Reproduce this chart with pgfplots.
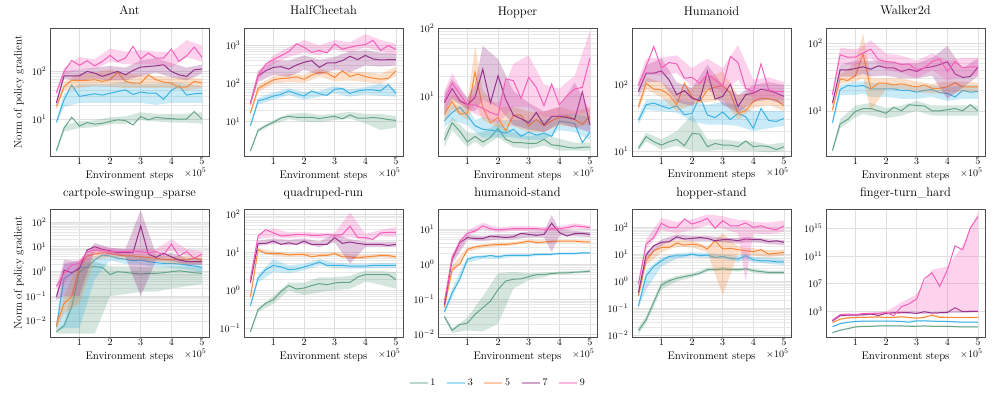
\documentclass[border=0pt]{standalone}
\usepackage{pgfplots}
\usepackage{pgfplotstable}
\pgfplotsset{compat=1.18}
\usepgfplotslibrary{groupplots}

\definecolor{c1}{RGB}{100,165,135}
\definecolor{c3}{RGB}{60,178,228}
\definecolor{c5}{RGB}{248,138,58}
\definecolor{c7}{RGB}{148,50,138}
\definecolor{c9}{RGB}{245,95,185}

% one band (upper forward, lower backward) and one mean line per run count
\newcommand{\runs}[2]{%
  \pgfplotsinvokeforeach{1,3,5,7,9}{%
    \addplot[draw=none, fill=c##1, fill opacity=0.28, forget plot] table[x=x, y=b##1] {#2};
    \addplot[c##1, line width=1pt] table[x=x, y=m##1] {#1};
  }%
}

% ---------------- Ant
\pgfplotstableread{
x m1 m3 m5 m7 m9
0.25 2.2 8.7 18.4 22 36
0.5 6.5 25.6 48 81 100
0.75 11 52 65 81 170
1 7.2 30 64 81 134
1.25 8.5 32 65 100 167
1.5 7.9 34 67 92 131
1.75 8.2 32 62 79 162
2 9 35 67 89 216
2.25 9.7 38 95 100 162
2.5 9.4 41 62 85 190
2.75 7.6 33 57 105 334
3 11.4 37 57 123 181
3.25 9.7 35 85 127 242
3.5 11 35 67 131 190
3.75 10.5 26 60 138 190
4 10.3 40 57 100 293
4.25 10 50 47 85 162
4.5 10.1 32 47 79 213
4.75 14.5 34 62 108 323
5 10 35 57 112 197
}\antM
\pgfplotstableread{
x b1 b3 b5 b7 b9
0.25 2.4 9.5 20 25 40
0.5 7.5 35 60 100 120
1 9 55 90 110 200
1.5 9.5 55 95 120 180
2 11 55 110 130 300
2.5 11.5 60 90 120 260
3 14 55 85 170 280
3.5 13 55 80 190 260
4 13 60 75 150 250
4.5 13 55 75 120 450
5 14 50 70 140 350
5 8 22 45 90 160
4.5 8.5 22 40 65 200
4 8.5 22 45 75 120
3.5 9 20 45 95 140
3 9.5 22 45 80 140
2.5 8 22 45 65 140
2 7.8 22 48 65 160
1.5 6.8 22 50 70 110
1 6.5 22 45 65 110
0.5 5.5 18 40 70 85
0.25 2.0 8 16 20 32
}\antB

% ---------------- HalfCheetah
\pgfplotstableread{
x m1 m3 m5 m7 m9
0.25 1.7 7.8 17 30 30
0.5 5.9 35 74 160 160
0.75 7.8 40 97 217 326
1 9.6 47 125 266 424
1.25 12.5 52 136 277 540
1.5 13.8 64 139 240 690
1.75 13 54 150 307 1110
2 13 47 130 362 900
2.25 13 64 166 400 660
2.5 12 54 196 266 740
2.75 13 49 188 347 640
3 13.8 71 144 347 1100
3.25 11.8 74 217 400 800
3.5 15 55 153 520 900
3.75 12.3 64 177 424 1000
4 12.3 68 153 550 1050
4.25 12.8 68 139 442 1360
4.5 12.3 64 130 417 740
4.75 11.3 94 136 424 1000
5 10.8 55 217 424 780
}\hcM
\pgfplotstableread{
x b1 b3 b5 b7 b9
0.25 1.8 8.5 19 35 34
0.5 6.5 42 90 220 200
1 11 58 160 400 550
1.5 16 75 180 400 900
2 17 60 170 550 1400
2.5 15 65 250 420 1000
3 16 85 190 500 1400
3.5 18 70 210 700 1200
4 16 80 200 750 2000
4.5 16 100 180 650 1400
5 14 70 280 600 1100
5 7 45 160 300 550
4.5 6 48 100 280 700
4 9 52 110 300 900
3.5 12 45 120 200 650
3 11 55 115 230 800
2.5 9.5 45 150 170 550
2 10 38 105 230 650
1.5 11.5 50 110 150 500
1 8.5 38 100 170 320
0.5 5.3 28 60 110 130
0.25 1.6 7.2 15 26 26
}\hcB

% ---------------- Hopper
\pgfplotstableread{
x m1 m3 m5 m7 m9
0.25 2.3 4.4 5.5 8.0 8.6
0.5 4.1 5.8 8.4 13 15.7
0.75 3.1 6.9 5.5 8.6 10.8
1 2.15 5.2 5.7 7.5 7.5
1.25 2.6 3.7 22.5 9.7 7.5
1.5 2.15 3.3 6.9 25 6.7
1.75 2.5 3.2 4.1 8 5.8
2 3.4 3.1 4.9 20 5.3
2.25 2.35 2.9 3.1 9 18
2.5 2.1 3.3 5.3 5.3 17
2.75 2.1 2.6 5.3 4.7 9.3
3 2.05 3.0 3.7 4.1 19
3.25 2.05 2.7 4.6 5.8 13.5
3.5 2.35 2.9 3.7 3.8 7.3
3.75 1.95 2.6 4.4 5.1 15.1
4 1.9 4.3 4.9 5.1 7.5
4.25 1.8 4.2 5.2 4.9 10.2
4.5 1.75 4.0 4.6 4.6 12.8
4.75 1.8 2.1 3.9 11.7 13.5
5 1.8 3.0 5.1 3.8 36
}\hopM
\pgfplotstableread{
x b1 b3 b5 b7 b9
0.25 3 5.5 7 11 12
0.5 5 7.5 11 18 22
1 3 7 8 9.5 9
1.25 2.9 4.5 55 15 11
1.5 3 5 12 55 9
2 4 4.5 7 35 8
2.5 3 4.5 7 12 30
3 2.6 4.5 6 8 40
3.5 2.8 4.5 6 6 15
4 2.4 5.5 7 7 13
4.5 2.1 5.5 6 16 20
5 2.1 5 7 6 90
5 1.6 2.3 3.9 3.0 6
4.5 1.6 3.0 3.5 3.5 5.5
4 1.6 3.2 3.8 4.0 5
3.5 1.9 2.3 3.0 3.0 5
3 1.7 2.3 3.0 3.3 7
2.5 1.8 2.5 3.7 3.8 7
2 2.5 2.5 3.5 7 4
1.5 1.8 2.5 4.5 9 5
1.25 2.2 3.0 8 6 5.5
1 1.8 3.8 4.5 6.5 6.5
0.5 3.2 4.5 6.5 9 10
0.25 1.8 3.5 4.2 5.5 6
}\hopB

% ---------------- Humanoid
\pgfplotstableread{
x m1 m3 m5 m7 m9
0.25 11 29 46 79 100
0.5 16.5 50 106 150 190
0.75 13.8 53 86 150 380
1 12.3 48 84 163 180
1.25 13.8 44 71 119 218
1.5 15 48 50 71 208
1.75 12 35.5 106 82 126
2 18.5 37 65 63 130
2.25 18 67 56 58 106
2.5 11.6 35 84 159 147
2.75 13 32 92 61 119
3 12.3 39 97 67 97
3.25 12.3 30 75 102 270
3.5 11.6 37 37 47 218
3.75 14.2 33 41 71 89
4 11.6 22 56 75 79
4.25 12 44 63 86 208
4.5 11.6 29 62 82 84
4.75 10.5 28 59 75 79
5 11.6 31 48 67 79
}\humM
\pgfplotstableread{
x b1 b3 b5 b7 b9
0.25 12 33 55 95 120
0.5 19 60 130 200 250
1 15 60 110 250 260
1.5 20 60 75 110 280
2 35 55 90 90 180
2.5 15 50 130 200 250
3 15 55 160 100 180
3.5 14 50 70 70 400
4 14 40 80 100 120
4.5 12.5 40 80 110 130
5 13.5 40 65 100 110
5 10 24 40 50 60
4.5 9.5 22 50 60 65
4 10 20 45 55 60
3.5 10 24 30 38 120
3 10.5 25 60 50 75
2.5 10 25 55 90 110
2 10 28 50 48 95
1.5 12 38 40 55 150
1 10.5 40 65 110 140
0.5 14 42 85 110 140
0.25 10 25 40 65 85
}\humB

% ---------------- Walker2d
\pgfplotstableread{
x m1 m3 m5 m7 m9
0.25 2.6 6.7 10.3 13 17.3
0.5 6.4 20.6 29.5 40 67
0.75 7.5 23.6 28 40 61.5
1 9.8 23 33 42 62
1.25 10.8 23.6 69 44.5 71
1.5 10.8 21 21 41 81
1.75 10 21 25.5 46 57
2 9.2 21 25.5 43 53
2.25 11.3 21 24 43 52
2.5 10 20 25 38 48
2.75 12.3 20 23.6 41 49
3 12 18.8 22.5 38 40
3.25 11.8 20 24 43 43
3.5 10 20.6 21.5 44.5 53
3.75 10 18.5 21.5 48 58
4 10.4 18 22.5 53 38
4.25 10.8 16 26 35 53
4.5 10 20 22.5 31 43
4.75 12.3 18.8 22.5 32 44.5
5 10 19.3 22.5 44 44.5
}\walM
\pgfplotstableread{
x b1 b3 b5 b7 b9
0.25 2.8 7.3 11 14 19
0.5 7.5 24 34 48 85
1 12 27 50 55 80
1.25 12.5 27 140 55 90
1.5 13 26 30 55 110
2 11 25 30 55 70
2.5 12 24 30 50 65
3 14 23 27 50 55
3.5 12 24 25 60 70
4 12 22 27 90 55
4.5 12 24 27 42 60
5 12 24 26 60 60
5 8.5 15 19 32 33
4.5 8.5 15 19 22 32
4 8.5 14 18 15 28
3.5 8.5 16 18 33 40
3 10 15 19 30 30
2.5 8.5 15 21 30 36
2 7.8 16 21 33 40
1.5 8.5 16 10 32 60
1.25 9 18 30 35 55
1 8 17 27 32 45
0.5 5.5 17 25 32 50
0.25 2.4 6.1 9.5 12 15.5
}\walB

% ---------------- cartpole-swingup_sparse
\pgfplotstableread{
x m1 m3 m5 m7 m9
0.25 0.0036 0.0057 0.0066 0.094 0.25
0.5 0.0063 0.52 0.05 1.13 0.83
0.75 0.037 0.83 0.1 0.88 1.8
1 0.97 1.45 1.45 1.3 2.1
1.25 1.45 1.45 4.2 7.3 6.3
1.5 1.55 2.9 5.0 10 7.3
1.75 1.45 4.6 5.7 7.8 7.3
2 0.75 4.2 5.4 6.9 6.3
2.25 0.97 3.4 4.6 5.7 6.3
2.5 0.91 3.1 4.2 5.7 6.3
2.75 0.83 2.7 4.2 5.7 6.9
3 0.78 2.9 3.9 69 6.3
3.25 0.83 2.5 3.7 5.0 5.7
3.5 0.83 2.25 3.4 3.7 6.3
3.75 0.88 2.1 3.1 5.4 4.6
4 0.97 2.1 2.9 3.9 12.8
4.25 1.06 2.0 3.1 2.9 4.2
4.5 0.97 1.8 2.9 2.5 6.3
4.75 0.88 1.65 3.4 2.5 3.4
5 0.83 1.45 2.9 2.5 5.0
}\cpM
\pgfplotstableread{
x b1 b3 b5 b7 b9
0.25 0.004 0.008 0.01 0.12 0.3
0.5 0.008 2 0.1 3 2
1 2.2 2.5 3 2.5 3
1.5 2.5 4 7 14 11
2 1.6 6 7.5 9 9
2.5 1.6 4.5 5.5 8 8
3 1.5 4 5 300 8
3.5 1.5 3 4.5 5 8
4 1.6 3 4 5.5 20
4.5 1.6 2.7 4.5 3.5 8
5 1.5 2.3 4 3.5 6.5
5 0.3 0.9 2 1.8 3.8
4.5 0.25 1.2 2 1.8 4.5
4 0.2 1.4 2 2.7 7
3.5 0.15 1.5 2.5 2.7 4.5
3 0.15 1.9 2.8 0.1 4.5
2.5 0.12 2 3 4 4.5
2 0.1 2.8 3.8 5 4.5
1.5 0.003 0.5 3 7 5
1 0.003 0.005 0.05 0.1 1.5
0.5 0.003 0.005 0.02 0.1 0.3
0.25 0.003 0.004 0.004 0.07 0.2
}\cpB

% ---------------- quadruped-run
\pgfplotstableread{
x m1 m3 m5 m7 m9
0.25 0.083 0.4 0.67 1.6 2.0
0.5 0.31 2.1 11.7 17 26.5
0.75 0.46 3.5 9.2 17 39
1 0.57 4.5 9.2 19.5 32
1.25 0.94 4.1 9.2 16 26.5
1.5 1.33 3.5 8.5 17.6 27.5
1.75 1.08 3.6 8.7 16 29
2 1.15 4.1 8.7 19.5 29
2.25 1.33 4.7 7.5 16 27.5
2.5 1.5 5.5 8.2 16 27.5
2.75 1.4 4.5 8.2 16 29
3 1.56 4.5 9.2 24 27.5
3.25 1.62 4.5 7.5 17 29
3.5 1.62 4.3 7.5 18.4 48
3.75 2.24 4.3 7.1 17 24
4 2.6 4.3 7.5 16 24
4.25 2.6 4.5 7.8 16 21.5
4.5 2.6 4.5 8.2 16 32
4.75 2.6 4.5 8.2 15 33
5 1.9 4.5 7.5 16 33
}\qrM
\pgfplotstableread{
x b1 b3 b5 b7 b9
0.25 0.09 0.45 0.75 1.8 2.3
0.5 0.35 2.6 13 20 31
1 0.7 6.5 10.5 23 42
1.5 1.6 4.5 9.5 21 33
2 1.6 5 9.7 23 34
2.5 2.2 6.5 9.2 19 32
3 2.2 5.3 10 30 32
3.5 2.4 5 8.5 22 110
4 3.3 5 8.5 19 30
4.5 3.2 5.2 9 19 38
5 3 5.2 8.3 19 45
5 1.1 3.9 6.8 13.5 25
4.5 1.4 3.9 7.4 13.5 26
4 1.7 3.7 6.7 13.5 20
3.5 1.1 3.7 6.7 5 25
3 1.0 3.8 8.3 18 23
2.5 0.9 4.5 7.3 13.5 23
2 0.75 3.3 7.8 16.5 25
1.5 1.0 2.8 7.6 15 23
1 0.45 3.0 8.2 16.5 25
0.5 0.27 1.6 10.5 14.5 22
0.25 0.075 0.35 0.6 1.4 1.7
}\qrB

% ---------------- humanoid-stand
\pgfplotstableread{
x m1 m3 m5 m7 m9
0.25 0.032 0.044 0.06 0.07 0.088
0.5 0.013 0.15 0.7 1.36 1.5
0.75 0.019 0.37 1.0 4.1 4.5
1 0.021 1.36 2.6 5.7 7.5
1.25 0.037 1.6 3.1 5.3 8.8
1.5 0.057 1.6 3.3 5.3 12.2
1.75 0.088 1.77 3.5 6.3 10.2
2 0.19 1.6 3.6 6.0 9.4
2.25 0.33 1.77 3.6 5.7 9.8
2.5 0.37 1.77 3.8 6.0 10.2
2.75 0.38 1.77 4.1 7.5 10.2
3 0.44 1.77 4.5 7.0 10.2
3.25 0.5 1.9 4.1 6.6 10.2
3.5 0.5 1.9 4.25 7.0 9.8
3.75 0.54 1.9 4.4 14.5 10.2
4 0.56 2.0 4.5 7.9 10.2
4.25 0.56 2.0 4.5 6.3 10.9
4.5 0.59 2.0 4.5 7.4 12.2
4.75 0.6 2.1 4.3 7.5 11.6
5 0.63 2.1 4.3 7.0 10.9
}\hsM
\pgfplotstableread{
x b1 b3 b5 b7 b9
0.25 0.036 0.05 0.07 0.08 0.1
0.5 0.015 0.2 0.9 1.8 1.9
1 0.03 1.6 3.0 6.8 9
1.5 0.12 1.8 3.7 6.3 15
2 0.55 1.8 4.1 7.0 11
2.5 0.6 1.95 4.2 7.0 12
3 0.55 1.95 5.0 8.5 12
3.5 0.58 2.05 4.7 8.5 11.5
3.75 0.59 2.05 4.8 25 11.7
4 0.62 2.15 4.9 9.5 12
4.5 0.64 2.15 4.9 8.8 14.5
5 0.68 2.25 4.7 8.2 12.5
5 0.58 1.95 3.9 5.9 9.5
4.5 0.54 1.85 4.1 6.2 10.3
4 0.5 1.85 4.1 6.5 8.8
3.75 0.5 1.75 4.0 2.2 8.8
3.5 0.42 1.75 3.8 5.8 8.4
3 0.35 1.6 4.0 5.8 8.8
2.5 0.2 1.6 3.4 5.0 8.8
2 0.02 1.4 3.2 5.0 8
1.5 0.012 1.4 2.9 4.5 10
1 0.013 1.1 2.2 4.8 6.2
0.5 0.011 0.11 0.55 1.0 1.2
0.25 0.028 0.039 0.05 0.06 0.075
}\hsB

% ---------------- hopper-stand
\pgfplotstableread{
x m1 m3 m5 m7 m9
0.25 0.015 0.125 0.29 0.39 0.8
0.5 0.038 1.6 5.8 9.5 24
0.75 0.17 3.6 13.7 21 43
1 0.73 5.8 18 28 141
1.25 1.05 8.4 18 29.5 100
1.5 1.3 8.9 26 45 100
1.75 1.5 8.9 22 37 204
2 1.7 10.3 24 39 133
2.25 2.0 8.9 22 42 162
2.5 2.7 9.4 15.8 39 215
2.75 2.7 7.7 32 32 92
3 2.9 8.4 15.8 35 177
3.25 2.7 7.1 16.7 35 115
3.5 2.7 6.7 15 32 115
3.75 2.9 8.9 13.7 37 145
4 2.5 6.3 12.6 35 100
4.25 2.3 5.8 15 35 115
4.5 2.15 5.8 10.3 29.5 92
4.75 2.15 5.3 11 32 81
5 2.15 5.3 11.8 28 115
}\hoM
\pgfplotstableread{
x b1 b3 b5 b7 b9
0.25 0.02 0.15 0.35 0.5 1.0
0.5 0.05 2.5 8 13 35
1 1.0 7.5 25 35 220
1.5 1.6 11 35 55 160
2 2.0 12 32 48 200
2.5 3.2 11.5 20 48 300
3 3.4 10 60 42 260
3.5 3.1 8.5 20 40 190
3.75 3.3 11 17 45 190
4 2.9 8 17 42 160
4.5 2.5 7.5 14 36 150
5 2.5 7 15 34 180
5 1.8 4 9 22 70
4.5 1.8 4.5 8 24 55
4 2.1 5 9 28 60
3.75 2.5 6.5 10 28 1.0
3.5 2.3 5.3 11 25 60
3 2.5 6.8 0.3 28 90
2.5 2.3 7.5 12 31 120
2 1.4 8.5 18 31 80
1.5 1.0 7 19 36 60
1 0.5 3.5 12 22 80
0.5 0.028 0.5 4 7 15
0.25 0.011 0.1 0.24 0.3 0.6
}\hoB

% ---------------- finger-turn_hard
\pgfplotstableread{
x m1 m3 m5 m7 m9
0.25 0.85 6.3 24.5 43 54
0.5 1.9 17 76 233 325
0.75 3.2 27 118 290 410
1 5.7 35 131 290 325
1.25 7.1 39 131 325 510
1.5 7.1 39 147 410 510
1.75 8 39 166 260 510
2 8 39 131 510 710
2.25 8 39 131 640 230
2.5 8 35 166 640 4800
2.75 7.1 27 131 640 1.2e4
3 7.1 43 105 510 6.3e4
3.25 8 43 131 900 5.4e7
3.5 7.1 39 290 580 3.6e8
3.75 7.1 35 131 640 4e6
4 7.1 35 131 710 9e8
4.25 6.3 31 131 3400 2.9e12
4.5 5.7 27 131 900 7.6e11
4.75 5.7 27 131 1000 1.1e15
5 5.7 27 131 1000 4.6e16
}\ftM
\pgfplotstableread{
x b1 b3 b5 b7 b9
0.25 1.0 7.5 30 55 70
0.5 2.3 21 95 300 420
1 7 43 165 400 420
1.5 9 48 185 560 700
2 10 48 165 700 1000
2.5 10 43 210 900 2e4
3 9 53 130 900 3e5
3.5 9 48 365 800 1e9
4 9 43 165 1000 3e9
4.5 7 33 165 1300 3e12
5 7 33 165 1400 2e17
5 4.6 22 105 720 1000
4.5 4.6 22 105 650 1000
4 5.6 28 105 510 1000
3.5 5.6 32 230 420 1000
3 5.6 35 84 460 1000
2.5 6.4 28 132 460 600
2 6.4 32 105 370 500
1.5 5.6 32 118 300 380
1 4.6 28 105 210 250
0.5 1.6 14 60 180 250
0.25 0.7 5.2 20 33 40
}\ftB

\begin{document}
\begin{tikzpicture}
\begin{groupplot}[
  group style={group size=5 by 2, horizontal sep=35pt, vertical sep=53pt},
  width=159pt, height=128pt, scale only axis,
  ymode=log,
  xmin=0.04, xmax=5.23, xtick={1,2,3,4,5},
  xlabel={Environment steps},
  xmajorgrids, ymajorgrids, yminorgrids,
  major grid style={gray!25, line width=0.5pt},
  minor grid style={gray!18, line width=0.4pt},
  major tick length=0pt, minor tick length=0pt,
  axis line style={black!70, line width=0.8pt},
  tick label style={font=\fontsize{10}{12}\selectfont},
  xticklabel style={yshift=1.5pt},
  label style={font=\fontsize{11}{13}\selectfont},
  xlabel style={at={(rel axis cs:0.5,0)}, anchor=base, yshift=-22pt},
  ylabel style={at={([xshift=-31pt]rel axis cs:0,0.5)}, anchor=center, rotate=0},
  title style={font=\fontsize{12.5}{14}\selectfont, anchor=base, yshift=7pt},
  after end axis/.code={\node[anchor=base east, font=\fontsize{10}{12}\selectfont, xshift=1pt, yshift=-20pt] at (rel axis cs:1,0) {$\times10^{5}$};},
]
\nextgroupplot[title={Ant}, ylabel={Norm of policy gradient}, ymin=1.7, ymax=810, ytick={10,100}]
\runs{\antM}{\antB}
\nextgroupplot[title={HalfCheetah}, ymin=1.25, ymax=2880, ytick={10,100,1000}]
\runs{\hcM}{\hcB}
\nextgroupplot[title={Hopper}, ymin=1.34, ymax=100, ytick={10,100}]
\runs{\hopM}{\hopB}
\nextgroupplot[title={Humanoid}, ymin=8.4, ymax=725, ytick={10,100}]
\runs{\humM}{\humB}
\nextgroupplot[title={Walker2d}, ymin=2.16, ymax=166, ytick={10,100}]
\runs{\walM}{\walB}
\nextgroupplot[title={cartpole-swingup\_sparse}, ylabel={Norm of policy gradient}, ymin=0.0022, ymax=336, ytick={0.01,0.1,1,10,100}]
\runs{\cpM}{\cpB}
\nextgroupplot[title={quadruped-run}, ymin=0.06, ymax=135, ytick={0.1,1,10,100}]
\runs{\qrM}{\qrB}
\nextgroupplot[title={humanoid-stand}, ymin=0.0084, ymax=37, ytick={0.01,0.1,1,10},
  legend columns=5,
  legend style={at={(0.377,-0.36)}, anchor=center, draw=none, fill=none,
    font=\fontsize{10}{12}\selectfont,
    /tikz/every even column/.append style={column sep=9pt}},
  legend image code/.code={\draw[#1, opacity=0.45, line width=1.4pt] (0pt,0pt) -- (18pt,0pt);},
  legend entries={1,3,5,7,9}]
\runs{\hsM}{\hsB}
\nextgroupplot[title={hopper-stand}, ymin=0.0087, ymax=480, ytick={0.01,0.1,1,10,100}]
\runs{\hoM}{\hoB}
\nextgroupplot[title={finger-turn\_hard}, ymin=0.2, ymax=6e17, ytick={1e3,1e7,1e11,1e15}, yminorgrids=false]
\runs{\ftM}{\ftB}
\end{groupplot}
\pgfresetboundingbox
\path ([shift={(-50pt,28pt)}]group c1r1.north west) rectangle ([shift={(947pt,-371pt)}]group c1r1.north west);
\end{tikzpicture}
\end{document}
